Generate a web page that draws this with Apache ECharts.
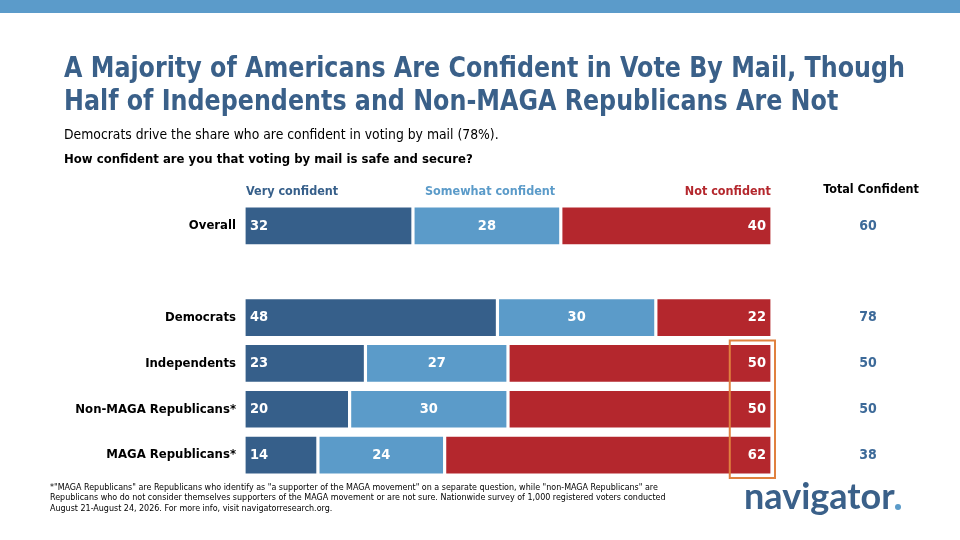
<!DOCTYPE html>
<html><head><meta charset="utf-8">
<script src="https://cdn.jsdelivr.net/npm/echarts@6/dist/echarts.min.js"></script>
<style>html,body{margin:0;padding:0;background:#fff}#c{width:960px;height:540px}</style>
</head><body><div id="c"></div>
<script>
const categories = ['Overall', '', 'Democrats', 'Independents', 'Non-MAGA Republicans*', 'MAGA Republicans*'];
const veryConfident = [32, null, 48, 23, 20, 14];
const somewhatConfident = [28, null, 30, 27, 30, 24];
const notConfident = [40, null, 22, 50, 50, 62];
const totalConfident = [60, '', 78, 50, 50, 38];
const seriesNames = ['Very confident', 'Somewhat confident', 'Not confident'];

const FONT = "'DejaVu Sans Condensed', 'Liberation Sans', sans-serif";
const DARK = '#365f8a', LIGHT = '#5b9bc9', RED = '#b4272d', TITLE = '#3a6089';

const titleLines = ['A Majority of Americans Are Confident in Vote By Mail, Though', 'Half of Independents and Non-MAGA Republicans Are Not'];
const titleFont = "bold 29px " + FONT;
const ctx = document.createElement('canvas').getContext('2d');
ctx.font = titleFont;
const titleScale = 841 / ctx.measureText(titleLines[0]).width;

const chart = echarts.init(document.getElementById('c'), null, {renderer: 'canvas'});
const lbl = (pos) => ({show: true, position: pos, color: '#fff', fontFamily: FONT, fontWeight: 'bold', fontSize: 14.5,
  formatter: p => (p.value == null ? '' : p.value), distance: 6});
const mk = (name, data, color, pos) => ({
  name, type: 'bar', stack: 'a', data, barCategoryGap: '13%',
  itemStyle: {color, borderColor: '#fff', borderWidth: 1.6},
  label: lbl(pos), emphasis: {disabled: true}, silent: true
});

const option = {
  animation: false,
  grid: {left: 244, right: 188, top: 203, bottom: 62},
  xAxis: {type: 'value', min: 0, max: 100, show: false},
  yAxis: [
    {type: 'category', data: categories, inverse: true, axisLine: {show: false}, axisTick: {show: false},
     axisLabel: {color: '#000', fontFamily: FONT, fontWeight: 'bold', fontSize: 13, margin: 8}},
    {type: 'category', data: categories, inverse: true, position: 'right', axisLine: {show: false}, axisTick: {show: false},
     axisLabel: {color: '#3d6a99', fontFamily: FONT, fontWeight: 'bold', fontSize: 14, margin: 96, align: 'center',
       formatter: (v, i) => totalConfident[i]}}
  ],
  series: [
    mk(seriesNames[0], veryConfident, DARK, 'insideLeft'),
    mk(seriesNames[1], somewhatConfident, LIGHT, 'inside'),
    mk(seriesNames[2], notConfident, RED, 'insideRight')
  ],
  graphic: [
    {type: 'rect', shape: {x: 0, y: 0, width: 960, height: 13}, style: {fill: '#5b9bca'}},
    {type: 'text', x: 64, y: 53, scaleX: titleScale, style: {text: titleLines.join('\n'), fill: TITLE, font: titleFont, lineHeight: 33}},
    {type: 'text', left: 64, top: 128, style: {text: 'Democrats drive the share who are confident in voting by mail (78%).', fill: '#000', font: "13.8px " + FONT}},
    {type: 'text', left: 64, top: 153, style: {text: 'How confident are you that voting by mail is safe and secure?', fill: '#000', font: "bold 13px " + FONT}},
    {type: 'text', left: 246, top: 185, style: {text: seriesNames[0], fill: DARK, font: "bold 12.5px " + FONT}},
    {type: 'text', left: 425, top: 185, style: {text: seriesNames[1], fill: LIGHT, font: "bold 12.5px " + FONT}},
    {type: 'text', right: 189, top: 185, style: {text: seriesNames[2], fill: RED, font: "bold 12.5px " + FONT}},
    {type: 'text', right: 41, top: 183, style: {text: 'Total Confident', fill: '#000', font: "bold 12.5px " + FONT}},
    {type: 'text', left: 50, top: 482, style: {text: '*"MAGA Republicans" are Republicans who identify as "a supporter of the MAGA movement" on a separate question, while "non-MAGA Republicans" are\nRepublicans who do not consider themselves supporters of the MAGA movement or are not sure. Nationwide survey of 1,000 registered voters conducted\nAugust 21-August 24, 2026. For more info, visit navigatorresearch.org.',
      fill: '#000', font: "8.9px " + FONT, lineHeight: 10.5}},
    {type: 'text', left: 744, top: 479, style: {text: 'navigator', fill: TITLE, font: "bold 36px 'Lato', 'Noto Sans', sans-serif"}},
    {type: 'circle', shape: {cx: 898, cy: 507, r: 3}, style: {fill: LIGHT}}
  ]
};
chart.setOption(option);

// highlight box around "Not confident" for Independents .. MAGA Republicans*
const p1 = chart.convertToPixel({gridIndex: 0}, [92, categories[3]]);
const p2 = chart.convertToPixel({gridIndex: 0}, [100, categories[5]]);
const p0 = chart.convertToPixel({gridIndex: 0}, [100, categories[4]]);
const half = (p2[1] - p0[1]) / 2;
chart.setOption({graphic: option.graphic.concat([{type: 'rect', shape: {x: p1[0], y: p1[1] - half, width: p2[0] - p1[0] + 3, height: p2[1] - p1[1] + 2 * half},
  style: {fill: 'none', stroke: '#e0813f', lineWidth: 2}, z: 10}])});
</script></body></html>
